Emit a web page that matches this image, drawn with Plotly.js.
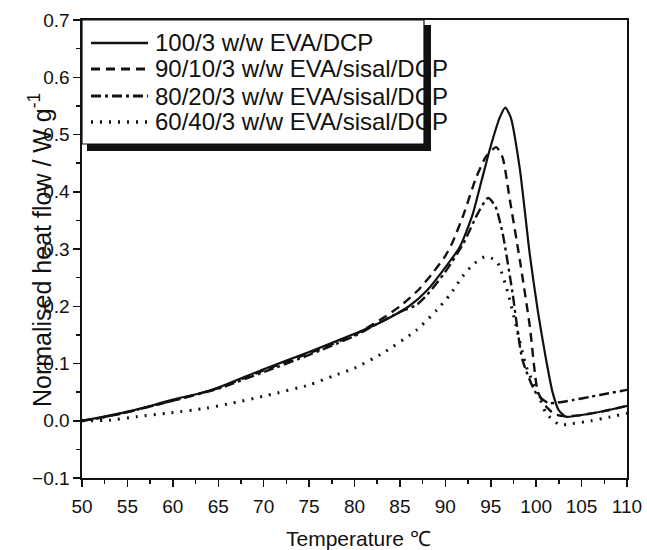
<!DOCTYPE html>
<html>
<head>
<meta charset="utf-8">
<script src="https://cdn.plot.ly/plotly-3.0.1.min.js"></script>
<style>html,body{margin:0;padding:0;background:#fff;}#chart{width:647px;height:550px;}</style>
</head>
<body>
<div id="chart"></div>
<script>
// ---- data ----
const seriesNames = [
  "100/3 w/w EVA/DCP",
  "90/10/3 w/w EVA/sisal/DCP",
  "80/20/3 w/w EVA/sisal/DCP",
  "60/40/3 w/w EVA/sisal/DCP"
];

const tempA = [50,52,55,58,60,63,65,70,75,80,83,86,88,90,91.6,93,94,95,96,96.6,97.2,98.2,99.3,100.2,101.1,101.8,102.5,103.3,105,107.5,110];
const flowA = [0,0.006,0.016,0.028,0.037,0.048,0.058,0.09,0.12,0.152,0.173,0.2,0.228,0.268,0.304,0.36,0.42,0.48,0.53,0.547,0.53,0.44,0.29,0.19,0.106,0.05,0.018,0.007,0.01,0.017,0.026];

const tempB = [50,52,55,60,65,70,75,80,83,85,87,88.6,90,90.8,92,93.4,94.5,95.6,96.3,97.1,98.2,99.3,100.2,101.1,102,103,105,107.5,110];
const flowB = [0,0.005,0.015,0.035,0.057,0.088,0.118,0.15,0.178,0.2,0.228,0.258,0.288,0.312,0.36,0.425,0.462,0.478,0.46,0.386,0.281,0.165,0.05,0.025,0.012,0.008,0.01,0.017,0.026];

const tempC = [50,52,55,60,65,70,75,80,82,85,86.8,88,90,92,93.5,94.7,95.5,96.3,97.4,98.5,100,101.3,102,104,106,108,110];
const flowC = [0,0.005,0.015,0.035,0.056,0.085,0.115,0.148,0.165,0.19,0.202,0.22,0.26,0.31,0.36,0.389,0.375,0.328,0.223,0.106,0.048,0.031,0.031,0.036,0.042,0.048,0.054];

const tempD = [50,53,56,59.3,63.7,66.6,70.3,75.1,77.6,80,83.1,86.8,89.1,90.5,91.9,93,94.3,95.2,95.8,96.9,97.8,98.9,100.2,101.1,102.6,104,106,108,110];
const flowD = [0,0.001,0.007,0.013,0.022,0.031,0.044,0.063,0.078,0.092,0.118,0.158,0.194,0.22,0.252,0.272,0.286,0.283,0.275,0.223,0.165,0.095,0.048,0.013,-0.007,-0.005,0.0,0.006,0.013];

const xTickVals = [50,55,60,65,70,75,80,85,90,95,100,105,110];
const yTickVals = [-0.1,0.0,0.1,0.2,0.3,0.4,0.5,0.6,0.7];

// ---- styling ----
const dashes = ["solid", "9px,6px", "10px,4px,3px,4px", "2px,7px"];
const widths = [2.2, 2.4, 2.4, 3];
const temps = [tempA, tempB, tempC, tempD];
const flows = [flowA, flowB, flowC, flowD];
const FONT = "Liberation Sans, Arial, Helvetica, sans-serif";

const traces = temps.map((t, i) => ({
  x: t, y: flows[i], name: seriesNames[i], type: "scatter", mode: "lines",
  line: {color: "#111", width: widths[i], dash: dashes[i], shape: "spline", smoothing: 0.6},
  showlegend: false, hoverinfo: "skip"
}));

// plot-area pixel helpers for the custom legend box (paper coordinates)
const L = 82, R = 20, T = 20, B = 72, W = 647, H = 550;
const pw = W - L - R, ph = H - T - B;
const px = v => (v - L) / pw;
const py = v => (H - B - v) / ph;

const shapes = [
  {type: "rect", xref: "paper", yref: "paper", x0: px(87), x1: px(431), y0: py(151), y1: py(25),
   fillcolor: "#111", line: {width: 0}, layer: "above"},
  {type: "rect", xref: "paper", yref: "paper", x0: px(82), x1: px(424), y0: py(144), y1: py(20),
   fillcolor: "#fff", line: {color: "#111", width: 1.2}, layer: "above"}
];
const rowY = [43, 69, 96, 122];
const annotations = [];
seriesNames.forEach((n, i) => {
  shapes.push({type: "line", xref: "paper", yref: "paper", x0: px(91), x1: px(148), y0: py(rowY[i]), y1: py(rowY[i]),
    line: {color: "#111", width: widths[i] + 0.4, dash: dashes[i]}, layer: "above"});
  annotations.push({xref: "paper", yref: "paper", x: px(153), y: py(rowY[i]), xanchor: "left", yanchor: "middle",
    text: n, showarrow: false, font: {family: FONT, size: 24, color: "#111"}});
});
annotations.push({xref: "paper", yref: "paper", x: px(40), y: py(250), xanchor: "center", yanchor: "middle",
  textangle: -90, text: "Normalised heat flow / W g<sup>-1</sup>", showarrow: false,
  font: {family: FONT, size: 25, color: "#111"}});
annotations.push({xref: "paper", yref: "paper", x: px(358), y: py(538), xanchor: "center", yanchor: "middle",
  text: "Temperature ℃", showarrow: false, font: {family: FONT, size: 21, color: "#111"}});

const layout = {
  width: W, height: H,
  margin: {l: L, r: R, t: T, b: B, pad: 0},
  paper_bgcolor: "#fff", plot_bgcolor: "#fff",
  font: {family: FONT, color: "#111"},
  showlegend: false,
  xaxis: {
    range: [50, 110], tickvals: xTickVals, ticks: "outside", ticklen: 7, tickwidth: 1.5, tickcolor: "#111",
    showline: true, linecolor: "#111", linewidth: 1.6, mirror: true, showgrid: false, zeroline: false,
    tickfont: {family: FONT, size: 19, color: "#111"}, ticklabelstandoff: 4,
    minor: {dtick: 2.5, tick0: 50, ticks: "outside", ticklen: 4, tickwidth: 1.5, tickcolor: "#111", showgrid: false}
  },
  yaxis: {
    range: [-0.1, 0.7], tickvals: yTickVals, tickformat: ".1f", ticks: "outside", ticklen: 7, tickwidth: 1.5, tickcolor: "#111",
    showline: true, linecolor: "#111", linewidth: 1.6, mirror: true, showgrid: false, zeroline: false,
    tickfont: {family: FONT, size: 19, color: "#111"},
    minor: {dtick: 0.05, tick0: 0, ticks: "outside", ticklen: 4, tickwidth: 1.5, tickcolor: "#111", showgrid: false}
  },
  shapes: shapes,
  annotations: annotations
};

Plotly.newPlot("chart", traces, layout, {displayModeBar: false, staticPlot: true});
</script>
</body>
</html>
